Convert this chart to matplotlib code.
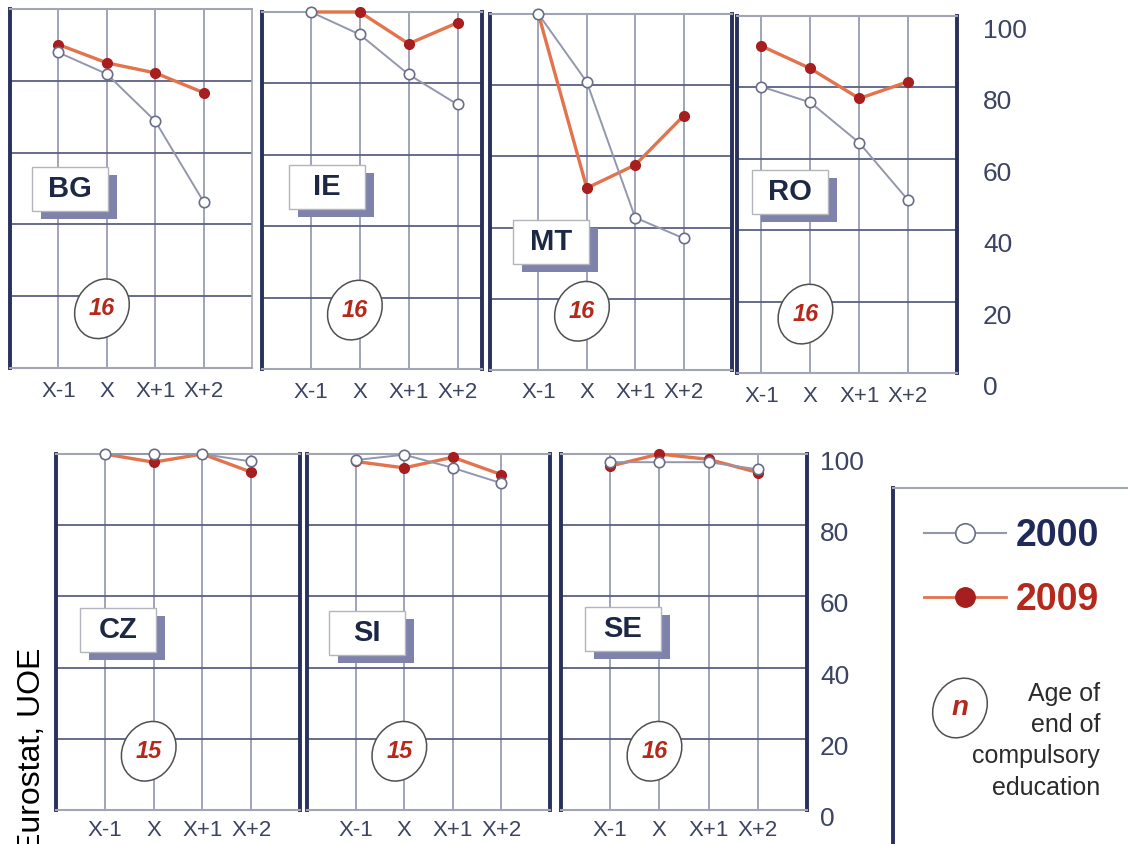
import matplotlib
matplotlib.use('Agg')
import matplotlib.pyplot as plt
from matplotlib import transforms
from matplotlib.lines import Line2D
from matplotlib.patches import Ellipse, Rectangle

# data (% of age group in education)
steps = ['X-1', 'X', 'X+1', 'X+2']
step_pos = [1, 2, 3, 4]
countries = ['BG', 'IE', 'MT', 'RO', 'CZ', 'SI', 'SE']
end_age = [16, 16, 16, 16, 15, 15, 16]

bg_2000 = [87.9, 81.9, 68.8, 46.3]
bg_2009 = [90.1, 85.0, 82.2, 76.7]
ie_2000 = [100, 93.7, 82.5, 74.1]
ie_2009 = [100, 100, 91.1, 97.0]
mt_2000 = [100, 80.9, 42.8, 37.0]
mt_2009 = [100, 51.1, 57.6, 71.4]
ro_2000 = [80.2, 75.8, 64.5, 48.4]
ro_2009 = [91.6, 85.3, 76.9, 81.6]
cz_2000 = [100, 100, 100, 97.9]
cz_2009 = [100, 97.7, 100, 94.9]
si_2000 = [98.3, 99.8, 96.1, 91.8]
si_2009 = [97.9, 96.1, 99.1, 94.2]
se_2000 = [97.7, 97.7, 97.7, 95.7]
se_2009 = [96.6, 100, 98.5, 94.8]

series_2000 = [bg_2000, ie_2000, mt_2000, ro_2000, cz_2000, si_2000, se_2000]
series_2009 = [bg_2009, ie_2009, mt_2009, ro_2009, cz_2009, si_2009, se_2009]
y_ticks = [0, 20, 40, 60, 80, 100]

W, H, DPI = 1128, 844, 100

# panel frames in pixels: left, top, right, bottom, x limits
frames = [
    (10, 9, 252, 368, (0, 5)),
    (262, 12, 482, 369, (0, 4.5)),
    (490, 14, 732, 370, (0, 5)),
    (737, 16, 957, 373, (0.5, 5)),
    (56, 454, 300, 810, (0, 5)),
    (307, 454, 550, 810, (0, 5)),
    (561, 454, 807, 810, (0, 5)),
]
box_at = [(1.24, 50), (1.33, 51), (1.27, 36), (1.58, 50.7),
          (1.27, 50.6), (1.23, 49.6), (1.26, 50.9)]

NAVY = '#28305e'
EDGE_GREY = '#a2a4b4'
GRID_H = '#5a6084'
GRID_V = '#868ba8'
GREY_LINE = '#9297ad'
GREY_EDGE = '#6a6f88'
RED_LINE = '#e2734c'
RED_DOT = '#a61e1e'
RED_TXT = '#b5281c'
TICK_TXT = '#3c4363'
SHADOW = '#7f82aa'

SANS = ['Liberation Sans', 'DejaVu Sans']

fig = plt.figure(figsize=(W / DPI, H / DPI), dpi=DPI, facecolor='white')


def anchored(ax, x, y, coords=None):
    # shapes given in inches, placed at a point of the axes
    return fig.dpi_scale_trans + transforms.ScaledTranslation(x, y, coords or ax.transData)


def age_badge(ax, x, y, label, coords=None, size=17):
    tr = anchored(ax, x, y, coords)
    ax.add_artist(Ellipse((0, 0), 0.62, 0.52, angle=60, transform=tr, facecolor='white',
                          edgecolor='#505050', lw=1.1, zorder=6, clip_on=False))
    ax.text(x, y, label, transform=coords or ax.transData, ha='center', va='center',
            family=SANS, weight='bold', style='italic', size=size, color=RED_TXT, zorder=7)


for i, country in enumerate(countries):
    l, t, r, b, xl = frames[i]
    ax = fig.add_axes([l / W, 1 - b / H, (r - l) / W, (b - t) / H])
    ax.set_xlim(*xl)
    ax.set_ylim(0, 100)
    ax.set_facecolor('white')

    ax.set_yticks([20, 40, 60, 80])
    ax.set_yticklabels([])
    ax.set_xticks(step_pos)
    ax.set_xticklabels(steps, family=SANS, size=16, color=TICK_TXT)
    ax.tick_params(length=0, axis='x', pad=9 if i < 4 else 7)
    ax.tick_params(length=0, axis='y')
    ax.yaxis.grid(True, color=GRID_H, lw=1.3)
    ax.xaxis.grid(True, color=GRID_V, lw=1.1)
    ax.set_axisbelow(True)

    for side in ['top', 'bottom']:
        ax.spines[side].set_color(EDGE_GREY)
        ax.spines[side].set_linewidth(1.5)
    for side in ['left', 'right']:
        ax.spines[side].set_color(NAVY)
        ax.spines[side].set_linewidth(2.8)
    if country == 'BG':
        ax.spines['right'].set_color(EDGE_GREY)
        ax.spines['right'].set_linewidth(1.2)

    ax.plot(step_pos, series_2009[i], color=RED_LINE, lw=2.4, marker='o', ms=7,
            mfc=RED_DOT, mec=RED_DOT, zorder=3, clip_on=False)
    ax.plot(step_pos, series_2000[i], color=GREY_LINE, lw=1.4, marker='o', ms=7.5,
            mfc='white', mec=GREY_EDGE, mew=1.2, zorder=4, clip_on=False)

    # country label with drop shadow
    bx, by = box_at[i]
    tr = anchored(ax, bx, by)
    ax.add_artist(Rectangle((-0.38 + 0.09, -0.22 - 0.08), 0.76, 0.44, transform=tr,
                            facecolor=SHADOW, edgecolor='none', zorder=5, clip_on=False))
    ax.add_artist(Rectangle((-0.38, -0.22), 0.76, 0.44, transform=tr, facecolor='white',
                            edgecolor='#b4b4bc', lw=1.0, zorder=5, clip_on=False))
    ax.text(bx, by, country, ha='center', va='center', family=SANS, weight='bold',
            size=21, color='#1d2845', zorder=6)

    age_badge(ax, 1.9, 16.5, str(end_age[i]))

    # value scale on the right of each row
    if country in ('RO', 'SE'):
        dx, dy = (26, 15) if country == 'RO' else (13, 9)
        tr = transforms.offset_copy(ax.get_yaxis_transform(), fig=fig, x=dx, y=-dy, units='dots')
        for v in y_ticks:
            ax.text(1, v, str(v), transform=tr, ha='left', va='center', family=SANS,
                    size=19, color=TICK_TXT, clip_on=False)

# legend panel
la = fig.add_axes([893 / W, 0, (W - 893) / W, (H - 488) / H])
la.set_xlim(0, 1)
la.set_ylim(0, 1)
la.set_xticks([])
la.set_yticks([])
la.spines['right'].set_visible(False)
la.spines['bottom'].set_visible(False)
la.spines['left'].set_color(NAVY)
la.spines['left'].set_linewidth(2.8)
la.spines['top'].set_color(EDGE_GREY)
la.spines['top'].set_linewidth(1.5)

handles = [
    Line2D([], [], color=GREY_LINE, lw=1.5, marker='o', ms=14, mfc='white', mec=GREY_EDGE, mew=1.2),
    Line2D([], [], color=RED_LINE, lw=2.0, marker='o', ms=14, mfc=RED_DOT, mec=RED_DOT),
]
leg = la.legend(handles, ['2000', '2009'], loc='upper left', bbox_to_anchor=(0.13, 0.915),
                frameon=False, handlelength=2.2, handletextpad=0.25, labelspacing=0.75,
                borderpad=0, borderaxespad=0,
                prop=dict(family=SANS, weight='bold', size=27))
for txt, col in zip(leg.get_texts(), ['#1f2a5a', RED_TXT]):
    txt.set_color(col)

age_badge(la, 0.285, 0.382, 'n', coords=la.transAxes, size=20)
la.text(0.881, 0.29, 'Age of\nend of\ncompulsory\neducation', ha='right', va='center',
        multialignment='right', linespacing=1.38, family=SANS, size=18, color='#2b2b2b')

fig.text(40 / W, 1 - 648 / H, 'Eurostat, UOE', rotation=90, rotation_mode='anchor',
         ha='right', va='baseline', family=SANS, size=23, color='black')

fig.savefig('out.png', dpi=DPI, facecolor='white')
